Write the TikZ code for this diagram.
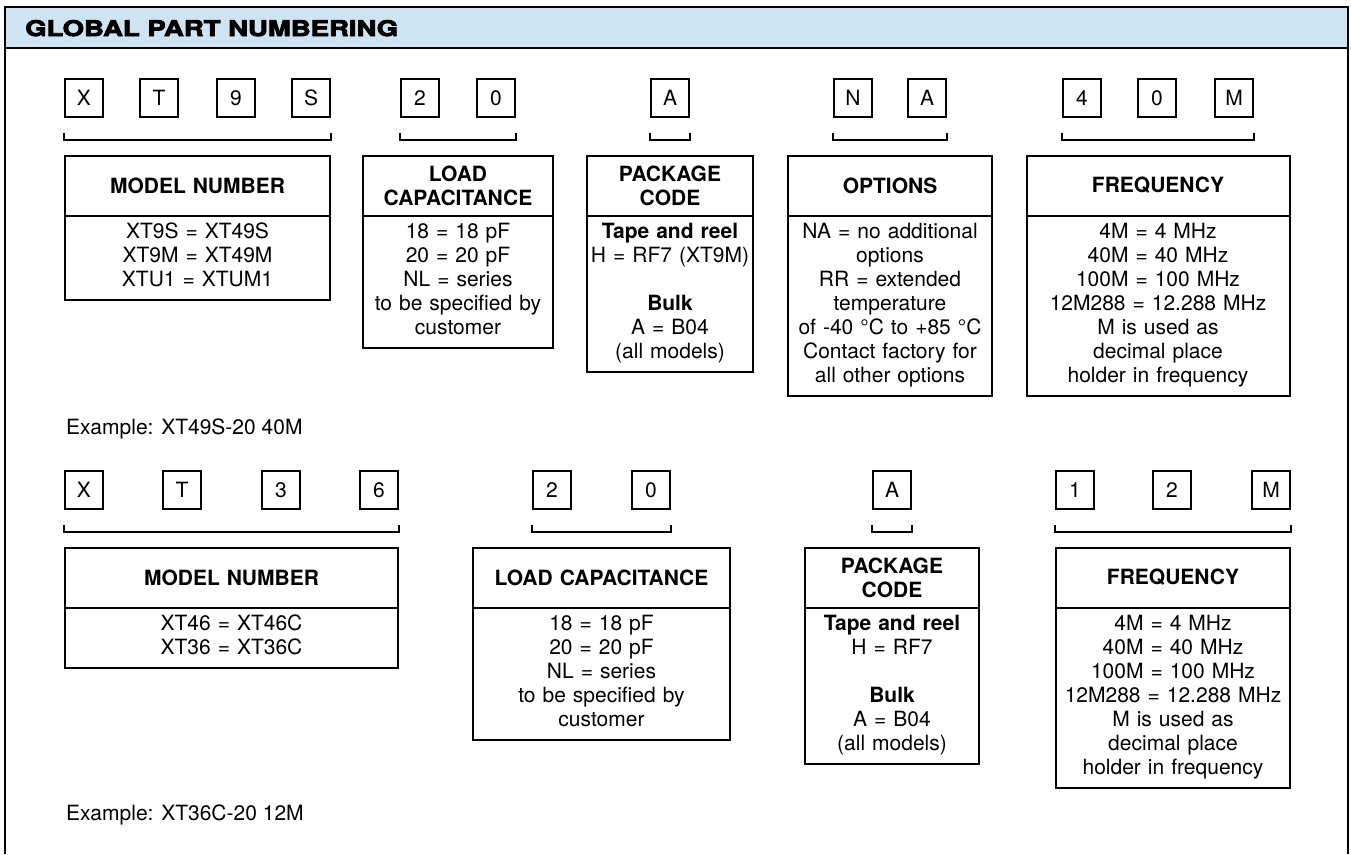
\documentclass[tikz,border=0pt]{standalone}
\usepackage{fontspec}
\setmainfont{TeX Gyre Heros}
\newfontfamily\heavyfont{TeX Gyre Heros}[BoldFeatures={FakeBold=4,FakeStretch=1.28}]
\usepackage{xcolor}
\usepackage{tikz}
\usetikzlibrary{shapes.multipart,positioning}

\definecolor{hdrblue}{RGB}{207,228,242}
\newcommand\hdr[1]{\parbox[c][48pt][c]{\linewidth}{\centering\bfseries #1}}
\newcommand\bd[1]{\strut#1\strut}

\begin{document}
\begin{tikzpicture}[x=1pt, y=-1pt, font=\fontsize{21}{24}\selectfont,
	letter/.style={draw, line width=1.3pt, minimum size=38pt, inner sep=0pt},
	info/.style={rectangle split, rectangle split parts=2, draw, line width=2pt,
	align=center, inner xsep=2pt, inner ysep=5pt},
	brace/.style={line width=2pt}]
\useasboundingbox (0,0) rectangle (1351,854);

\fill[hdrblue] (5,7) rectangle (1348,48);
\draw[line width=2pt] (5,854) -- (5,7) -- (1348,7) -- (1348,854);
\draw[line width=2pt] (5,48) -- (1348,48);
\node[anchor=base west, inner sep=0pt, font=\fontsize{21.5}{24}\heavyfont\bfseries] (title) at (25,36) {GLOBAL PART NUMBERING};

% XT9S-20 A NA 40M
\node[letter] (a1) at (84,98) {X};
\node[letter] (a2) at (159,98) {T};
\node[letter] (a3) at (236,98) {9};
\node[letter] (a4) at (311,98) {S};
\node[letter] (a5) at (420,98) {2};
\node[letter] (a6) at (496,98) {0};
\node[letter] (a7) at (670,98) {A};
\node[letter] (a8) at (853,98) {N};
\node[letter] (a9) at (927,98) {A};
\node[letter] (a10) at (1082,98) {4};
\node[letter] (a11) at (1157,98) {0};
\node[letter] (a12) at (1234,98) {M};
\draw[brace] ([yshift=-15pt]a1.south west) -- ++(0,-7pt) -| coordinate[pos=.25] (m1) ([yshift=-15pt]a4.south east);
\draw[brace] ([yshift=-15pt]a5.south west) -- ++(0,-7pt) -| coordinate[pos=.25] (m2) ([yshift=-15pt]a6.south east);
\draw[brace] ([yshift=-15pt]a7.south west) -- ++(0,-7pt) -| coordinate[pos=.25] (m3) ([yshift=-15pt]a7.south east);
\draw[brace] ([yshift=-15pt]a8.south west) -- ++(0,-7pt) -| coordinate[pos=.25] (m4) ([yshift=-15pt]a9.south east);
\draw[brace] ([yshift=-15pt]a10.south west) -- ++(0,-7pt) -| coordinate[pos=.25] (m5) ([yshift=-15pt]a12.south east);

\node[info, text width=261pt, below=15pt of m1] (model1) {\hdr{MODEL NUMBER}
	\nodepart{two}\bd{XT9S = XT49S\\ XT9M = XT49M\\ XTU1 = XTUM1}};
\node[info, text width=186pt, below=15pt of m2] (load1) {\hdr{LOAD\\ CAPACITANCE}
	\nodepart{two}\bd{18 = 18 pF\\ 20 = 20 pF\\ NL = series\\ to be specified by\\ customer}};
\node[info, text width=162pt, below=15pt of m3] (pkg1) {\hdr{PACKAGE\\ CODE}
	\nodepart{two}\bd{\textbf{Tape and reel}\\ H = RF7 (XT9M)\\[24pt] \textbf{Bulk}\\ A = B04\\ (all models)}};
\node[info, text width=200pt, below=15pt of m4] (opt1) {\hdr{OPTIONS}
	\nodepart{two}\bd{NA = no additional\\ options\\ RR = extended\\ temperature\\ of -40 °C to +85 °C\\ Contact factory for\\ all other options}};
\node[info, text width=259pt, below=15pt of m5] (freq1) {\hdr{FREQUENCY}
	\nodepart{two}\bd{4M = 4 MHz\\ 40M = 40 MHz\\ 100M = 100 MHz\\ 12M288 = 12.288 MHz\\ M is used as\\ decimal place\\ holder in frequency}};

\node[anchor=base west, inner sep=0pt] (ex1) at (66,434) {Example: XT49S-20 40M};

% XT36-20 A 12M
\node[letter] (b1) at (84,490) {X};
\node[letter] (b2) at (182,490) {T};
\node[letter] (b3) at (281,490) {3};
\node[letter] (b4) at (379,490) {6};
\node[letter] (b5) at (552,490) {2};
\node[letter] (b6) at (651,490) {0};
\node[letter] (b7) at (892,490) {A};
\node[letter] (b8) at (1075,490) {1};
\node[letter] (b9) at (1172,490) {2};
\node[letter] (b10) at (1271,490) {M};
\draw[brace] ([yshift=-15pt]b1.south west) -- ++(0,-7pt) -| coordinate[pos=.25] (n1) ([yshift=-15pt]b4.south east);
\draw[brace] ([yshift=-15pt]b5.south west) -- ++(0,-7pt) -| coordinate[pos=.25] (n2) ([yshift=-15pt]b6.south east);
\draw[brace] ([yshift=-15pt]b7.south west) -- ++(0,-7pt) -| coordinate[pos=.25] (n3) ([yshift=-15pt]b7.south east);
\draw[brace] ([yshift=-15pt]b8.south west) -- ++(0,-7pt) -| coordinate[pos=.25] (n4) ([yshift=-15pt]b10.south east);

\node[info, text width=329pt, below=15pt of n1] (model2) {\hdr{MODEL NUMBER}
	\nodepart{two}\bd{XT46 = XT46C\\ XT36 = XT36C}};
\node[info, text width=253pt, below=15pt of n2] (load2) {\hdr{LOAD CAPACITANCE}
	\nodepart{two}\bd{18 = 18 pF\\ 20 = 20 pF\\ NL = series\\ to be specified by\\ customer}};
\node[info, text width=170pt, below=15pt of n3] (pkg2) {\hdr{PACKAGE\\ CODE}
	\nodepart{two}\bd{\textbf{Tape and reel}\\ H = RF7\\[24pt] \textbf{Bulk}\\ A = B04\\ (all models)}};
\node[info, text width=230pt, below=15pt of n4] (freq2) {\hdr{FREQUENCY}
	\nodepart{two}\bd{4M = 4 MHz\\ 40M = 40 MHz\\ 100M = 100 MHz\\ 12M288 = 12.288 MHz\\ M is used as\\ decimal place\\ holder in frequency}};

\node[anchor=base west, inner sep=0pt] (ex2) at (66,820) {Example: XT36C-20 12M};
\end{tikzpicture}
\end{document}
